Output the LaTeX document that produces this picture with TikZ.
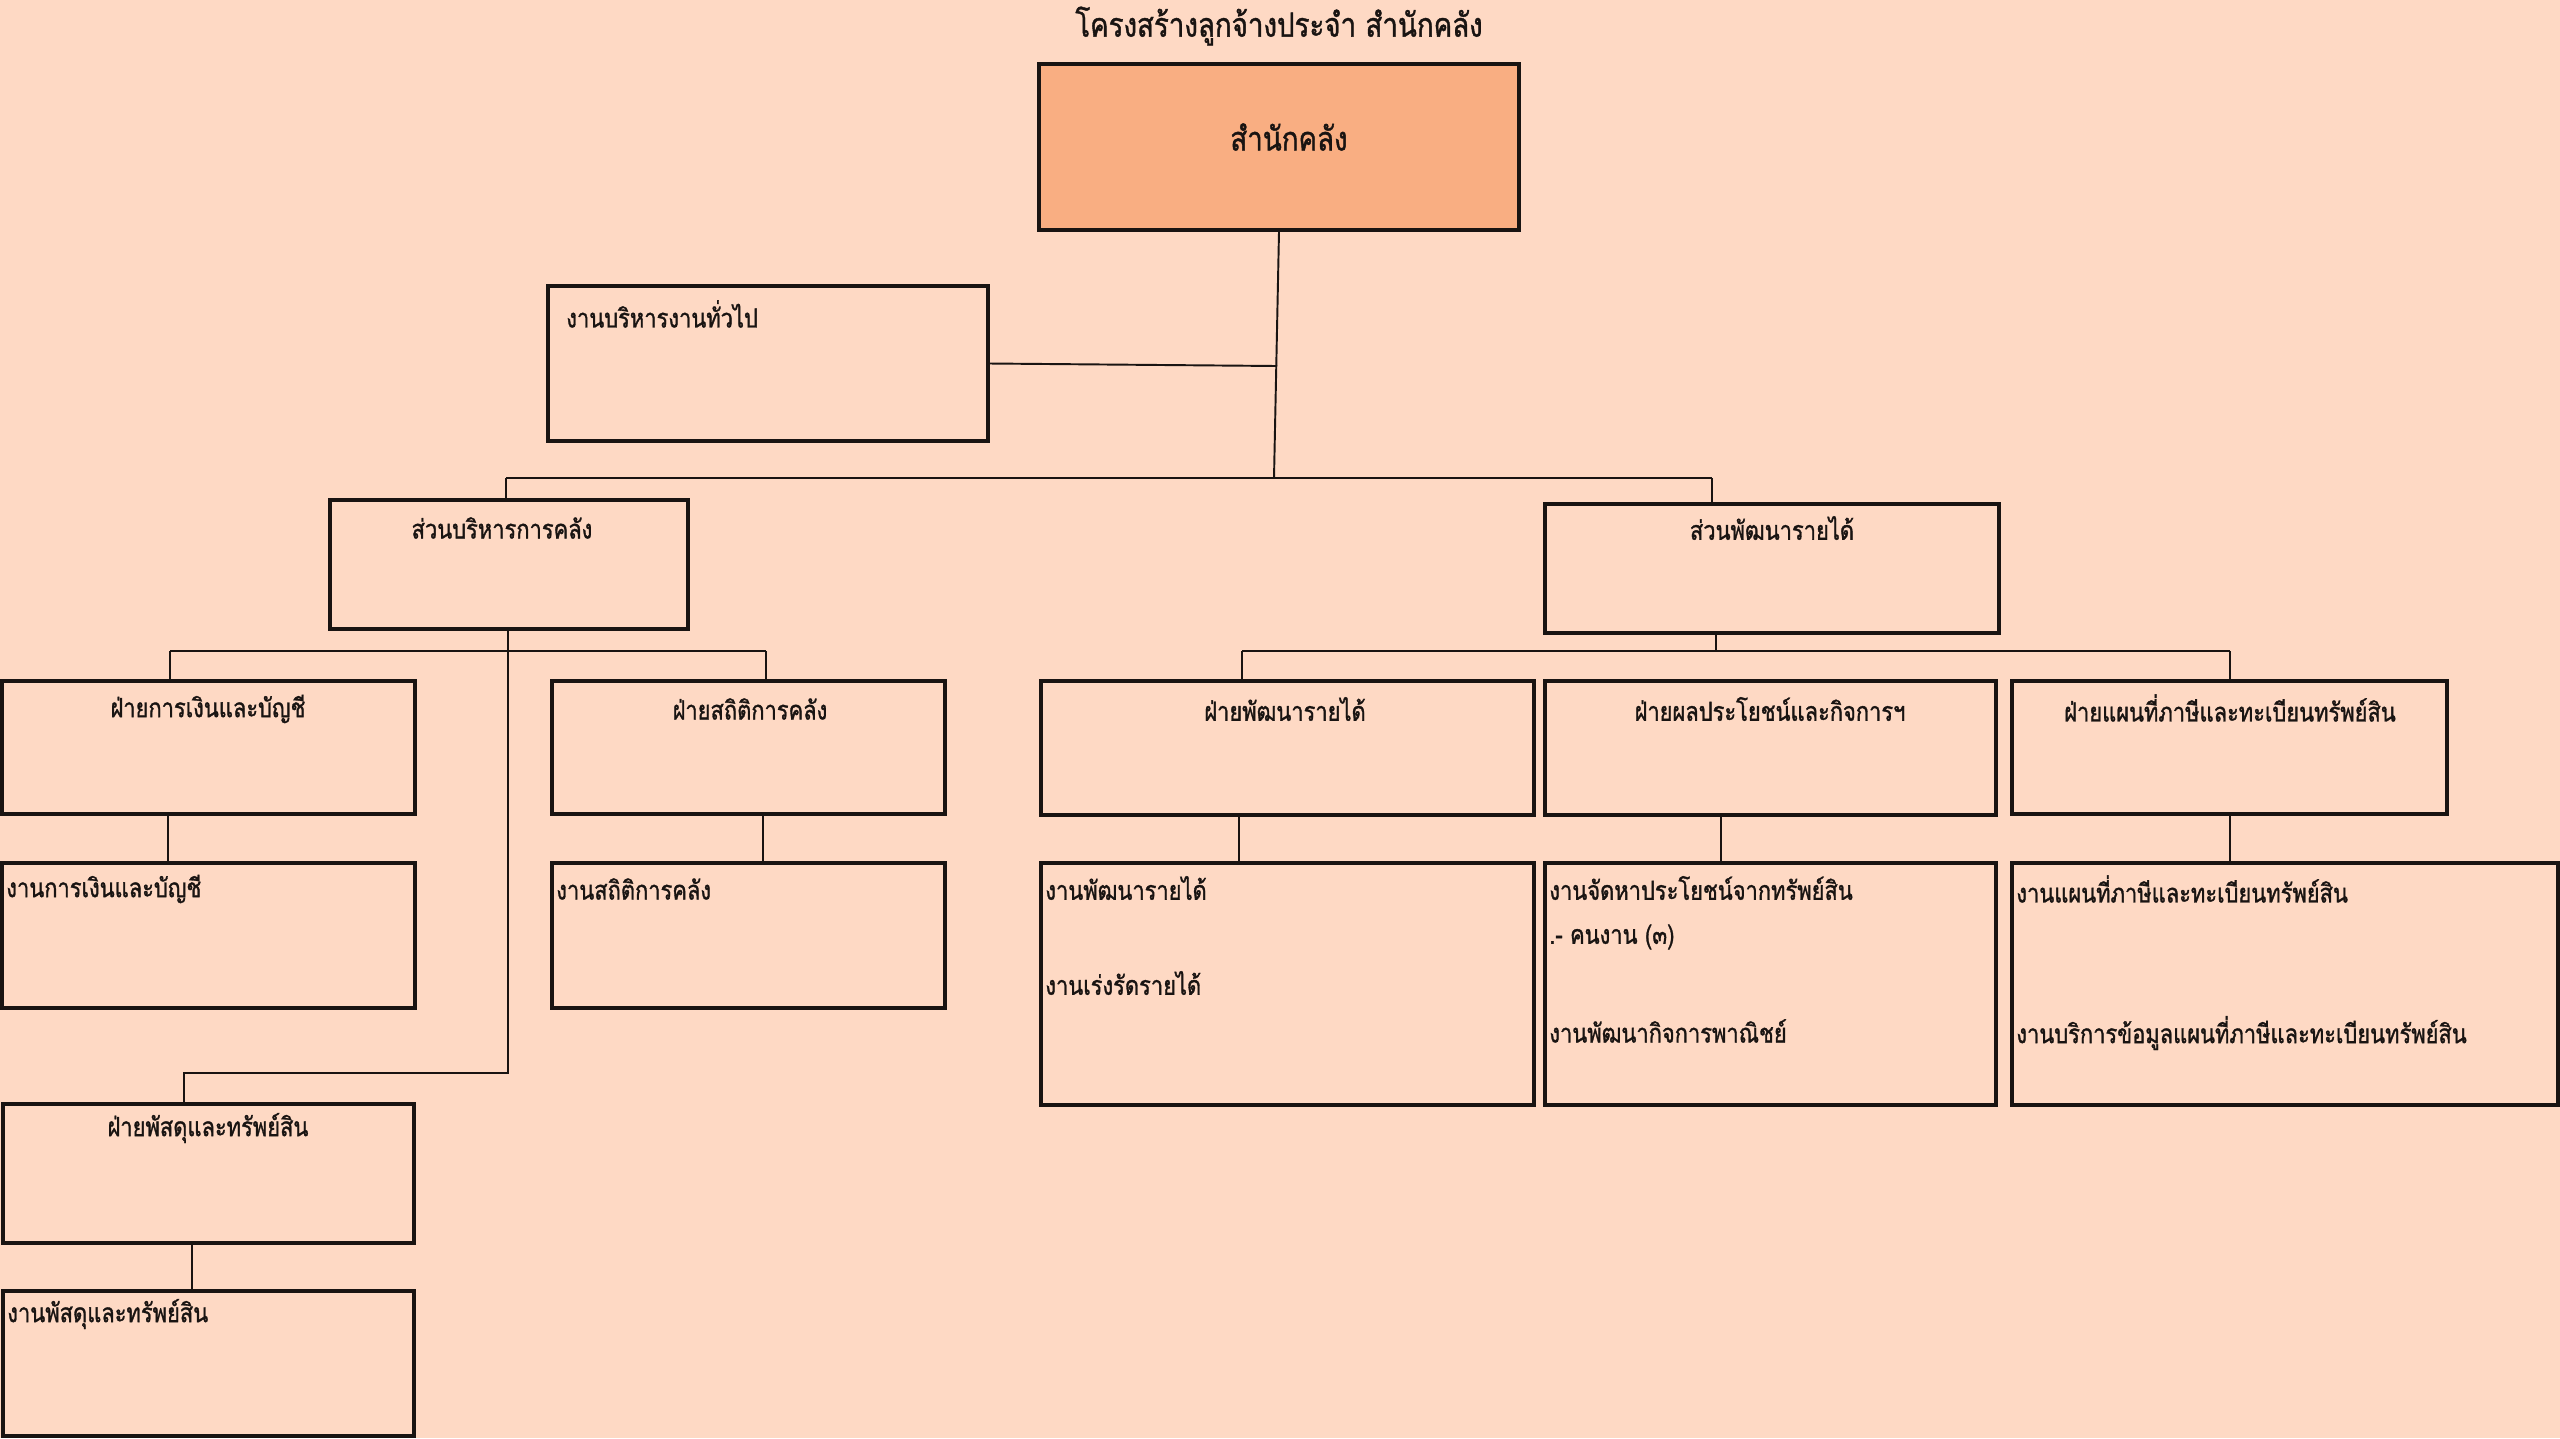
\documentclass[tikz,border=0pt]{standalone}
\usepackage{fontspec}
\newfontfamily\thaifont[Script=Thai, FakeStretch=0.83, FakeBold=1.2]{Loma}
\usetikzlibrary{fit}
\definecolor{bg}{RGB}{254,217,196}
\definecolor{topfill}{RGB}{249,174,130}
\definecolor{ink}{RGB}{25,20,18}
\begin{document}
\begin{tikzpicture}[x=0.02cm,y=-0.02cm,
  box/.style={draw=ink, line width=1.8pt, inner sep=0pt},
  conn/.style={draw=ink, line width=1.1pt},
  txt/.style={font=\thaifont\fontsize{15}{18}\selectfont, text=ink, inner sep=0pt},
  bigtxt/.style={font=\thaifont\fontsize{19}{22}\selectfont, text=ink, inner sep=0pt}]
\fill[bg] (0,0) rectangle (2560,1438);
\useasboundingbox (0,0) rectangle (2560,1438);

% title
\node[bigtxt] (title) at (1279,26) {โครงสร้างลูกจ้างประจำ สำนักคลัง};

% boxes
\node[box, fill=topfill, fit={(1039,64) (1519,230)}] (top) {};
\node[box, fit={(548,286) (988,441)}] (gen) {};
\node[box, fit={(330,500) (688,629)}] (sb) {};
\node[box, fit={(1545,504) (1999,633)}] (sp) {};
\node[box, fit={(2,681) (415,814)}] (f1) {};
\node[box, fit={(552,681) (945,814)}] (f2) {};
\node[box, fit={(1041,681) (1534,815)}] (f3) {};
\node[box, fit={(1545,681) (1996,815)}] (f4) {};
\node[box, fit={(2012,681) (2447,814)}] (f5) {};
\node[box, fit={(2,863) (415,1008)}] (g1) {};
\node[box, fit={(552,863) (945,1008)}] (g2) {};
\node[box, fit={(1041,863) (1534,1105)}] (g3) {};
\node[box, fit={(1545,863) (1996,1105)}] (g4) {};
\node[box, fit={(2012,863) (2558,1105)}] (g5) {};
\node[box, fit={(3,1104) (414,1243)}] (f6) {};
\node[box, fit={(3,1291) (414,1436)}] (g6) {};

% texts
\node[bigtxt] (ttop) at (1289,137) {สำนักคลัง};
\node[txt, anchor=west] (tgen) at (566,314) {งานบริหารงานทั่วไป};
\node[txt] (tsb) at (502,528) {ส่วนบริหารการคลัง};
\node[txt] (tsp) at (1772,528) {ส่วนพัฒนารายได้};
\node[txt] (tf1) at (208,709) {ฝ่ายการเงินและบัญชี};
\node[txt] (tf2) at (750,709) {ฝ่ายสถิติการคลัง};
\node[txt] (tf3) at (1285,709) {ฝ่ายพัฒนารายได้};
\node[txt] (tf4) at (1770,709) {ฝ่ายผลประโยชน์และกิจการฯ};
\node[txt] (tf5) at (2230,708) {ฝ่ายแผนที่ภาษีและทะเบียนทรัพย์สิน};
\node[txt, anchor=west] (tg1) at (6,889) {งานการเงินและบัญชี};
\node[txt, anchor=west] (tg2) at (556,889) {งานสถิติการคลัง};
\node[txt, anchor=west] (tg3a) at (1045,888) {งานพัฒนารายได้};
\node[txt, anchor=west] (tg3b) at (1045,983) {งานเร่งรัดรายได้};
\node[txt, anchor=west] (tg4a) at (1549,888) {งานจัดหาประโยชน์จากทรัพย์สิน};
\node[txt, anchor=west] (tg4b) at (1549,937) {.- คนงาน (๓)};
\node[txt, anchor=west] (tg4c) at (1549,1031) {งานพัฒนากิจการพาณิชย์};
\node[txt, anchor=west] (tg5a) at (2016,889) {งานแผนที่ภาษีและทะเบียนทรัพย์สิน};
\node[txt, anchor=west] (tg5b) at (2016,1033) {งานบริการข้อมูลแผนที่ภาษีและทะเบียนทรัพย์สิน};
\node[txt] (tf6) at (208,1128) {ฝ่ายพัสดุและทรัพย์สิน};
\node[txt, anchor=west] (tg6) at (7,1314) {งานพัสดุและทรัพย์สิน};

% junction coordinates
\coordinate (j0) at (1274,478);
\coordinate (j1) at (1277,366);
\coordinate (b1) at (506,478);
\coordinate (b2) at (1712,478);
\coordinate (c1) at (508,651);
\coordinate (l1) at (170,651);
\coordinate (l2) at (766,651);
\coordinate (c2) at (508,1073);
\coordinate (c3) at (184,1073);
\coordinate (r0) at (1716,651);
\coordinate (r1) at (1242,651);
\coordinate (r2) at (2230,651);

% connectors
\draw[conn] (top.south) -- (j0);
\draw[conn] (gen.east) -- (j1);
\draw[conn] (b1) -- (b2);
\draw[conn] (b1) -- (b1 |- sb.north);
\draw[conn] (b2) -- (b2 |- sp.north);
\draw[conn] (c1 |- sb.south) -- (c2) -- (c3) -- (c3 |- f6.north);
\draw[conn] (l1) -- (l2);
\draw[conn] (l1) -- (l1 |- f1.north);
\draw[conn] (l2) -- (l2 |- f2.north);
\draw[conn] (r0 |- sp.south) -- (r0);
\draw[conn] (r1) -- (r2);
\draw[conn] (r1) -- (r1 |- f3.north);
\draw[conn] (r2) -- (r2 |- f5.north);
\draw[conn] (168,0 |- f1.south) -- (168,0 |- g1.north);
\draw[conn] (763,0 |- f2.south) -- (763,0 |- g2.north);
\draw[conn] (1239,0 |- f3.south) -- (1239,0 |- g3.north);
\draw[conn] (1721,0 |- f4.south) -- (1721,0 |- g4.north);
\draw[conn] (r2 |- f5.south) -- (r2 |- g5.north);
\draw[conn] (192,0 |- f6.south) -- (192,0 |- g6.north);
\end{tikzpicture}
\end{document}
